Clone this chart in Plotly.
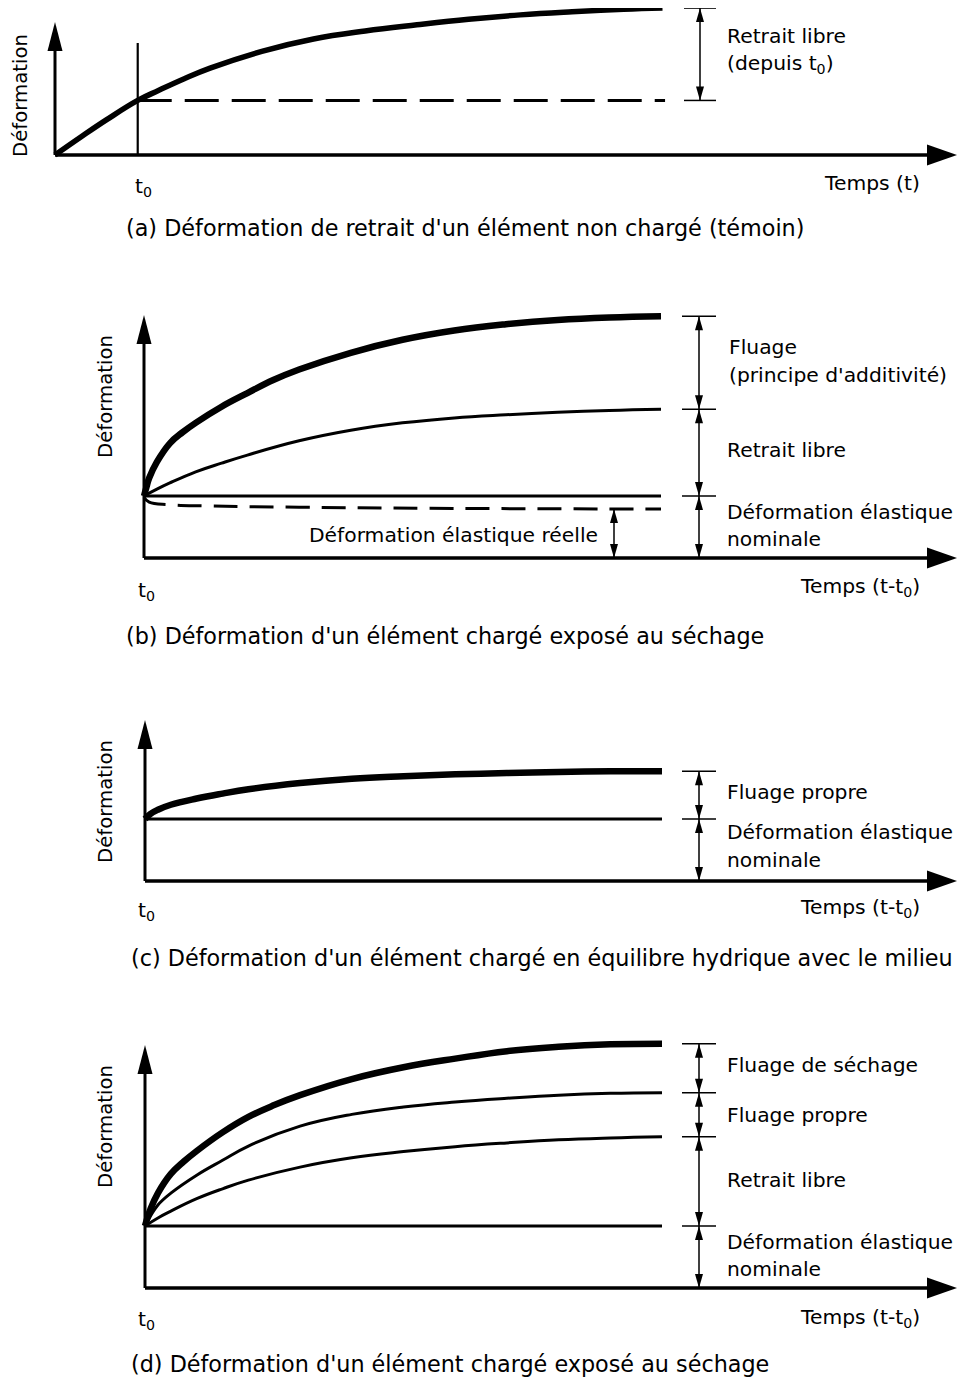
import plotly.graph_objects as go

# ------------------------------------------------------------------
# DATA  (deformation in arbitrary units, elastic deformation = 1)
# ------------------------------------------------------------------
# (a) free shrinkage of an unloaded specimen, time counted from casting
t_a = [0, 0.5, 1, 1.6, 2, 2.5, 3, 4, 5, 6, 7, 8, 9, 10, 11, 11.75]
retrait_a = [0, 0.29, 0.57, 0.88, 1.04, 1.23, 1.40, 1.67, 1.87, 2.00, 2.10, 2.19, 2.26, 2.31, 2.35, 2.37]
t0_a = 1.6
t_end_a = 11.8

# (b) loaded specimen exposed to drying, time t - t0
t_b_tot = [0, 0.05, 0.1, 0.25, 0.5, 0.75, 1, 1.5, 2, 2.5, 3, 4, 5, 6, 7, 8, 9, 10]
total_b = [1.0, 1.15, 1.29, 1.55, 1.85, 2.03, 2.18, 2.44, 2.66, 2.87, 3.04, 3.31, 3.52, 3.67, 3.77, 3.84, 3.88, 3.90]
t_b_ret = [0, 0.25, 0.5, 1, 1.5, 2, 3, 4, 5, 6, 7, 8, 9, 10]
retrait_b = [1.0, 1.11, 1.21, 1.39, 1.53, 1.66, 1.89, 2.06, 2.18, 2.26, 2.31, 2.35, 2.38, 2.40]
t_b_reel = [0, 0.1, 0.5, 1.2, 3, 6, 10]
reelle_b = [0.98, 0.90, 0.86, 0.84, 0.82, 0.80, 0.79]

# (c) loaded specimen in hygral equilibrium
t_c = [0, 0.1, 0.25, 0.5, 1, 1.5, 2, 3, 4, 5, 6, 7, 8, 9, 10]
total_c = [1.0, 1.08, 1.15, 1.23, 1.33, 1.41, 1.48, 1.58, 1.65, 1.69, 1.72, 1.74, 1.76, 1.77, 1.77]

# (d) loaded specimen exposed to drying, components
t_d_tot = [0, 0.05, 0.1, 0.25, 0.5, 0.75, 1, 1.5, 2, 2.5, 3, 4, 5, 6, 7, 8, 9, 10]
sechage_d = [1.0, 1.14, 1.26, 1.53, 1.84, 2.04, 2.21, 2.51, 2.76, 2.95, 3.11, 3.37, 3.56, 3.70, 3.82, 3.89, 3.93, 3.94]
t_d_pro = [0, 0.1, 0.25, 0.5, 1, 1.5, 2, 3, 4, 5, 6, 7, 8, 9, 10]
propre_d = [1.0, 1.15, 1.34, 1.53, 1.82, 2.06, 2.29, 2.61, 2.80, 2.92, 3.00, 3.06, 3.11, 3.14, 3.15]
t_d_ret = [0, 0.25, 0.5, 1, 1.5, 2, 3, 4, 5, 6, 7, 8, 9, 10]
retrait_d = [1.0, 1.13, 1.24, 1.44, 1.60, 1.74, 1.95, 2.10, 2.20, 2.28, 2.34, 2.39, 2.42, 2.44]

t_elastic = [0, 10]
elastic = [1.0, 1.0]

# ------------------------------------------------------------------
# LAYOUT GEOMETRY
# ------------------------------------------------------------------
W, H = 950, 1370
OFF = 8
SX, SY = 51.7, 62.0
FONT = "DejaVu Sans, Liberation Sans, Arial, sans-serif"
LBL = 20.3      # label size
CAP = 22.3      # caption size

# page-pixel origin of each panel
panels = {
    "a": dict(x0=55, y0=155, xr="x", yr="y"),
    "b": dict(x0=144, y0=558, xr="x2", yr="y2"),
    "c": dict(x0=145, y0=881, xr="x3", yr="y3"),
    "d": dict(x0=145, y0=1288, xr="x4", yr="y4"),
}

fig = go.Figure()
shapes = []
annots = []


def tx(p, px):
    return (px - panels[p]["x0"]) / SX


def ty(p, py):
    return (panels[p]["y0"] - py) / SY


def axname(ref):
    return "xaxis" if ref == "x" else "xaxis" + ref[1:]


def ayname(ref):
    return "yaxis" if ref == "y" else "yaxis" + ref[1:]


def line(p, x0, y0, x1, y1, w, dash=None):
    P = panels[p]
    shapes.append(dict(type="line", xref=P["xr"], yref=P["yr"], x0=x0, y0=y0, x1=x1, y1=y1,
                       line=dict(color="black", width=w, dash=dash), layer="above"))


def tri(p, x, y, d, L, Wd):
    P = panels[p]
    if d == "up":
        pts = [(x, y), (x - Wd / 2 / SX, y - L / SY), (x + Wd / 2 / SX, y - L / SY)]
    elif d == "down":
        pts = [(x, y), (x - Wd / 2 / SX, y + L / SY), (x + Wd / 2 / SX, y + L / SY)]
    else:  # right
        pts = [(x, y), (x - L / SX, y + Wd / 2 / SY), (x - L / SX, y - Wd / 2 / SY)]
    path = "M {},{} L {},{} L {},{} Z".format(*[v for pt in pts for v in pt])
    shapes.append(dict(type="path", xref=P["xr"], yref=P["yr"], path=path,
                       fillcolor="black", line=dict(width=0), layer="above"))


def curve(p, xs, ys, w, dash=None):
    P = panels[p]
    fig.add_trace(go.Scatter(x=xs, y=ys, mode="lines", xaxis=P["xr"], yaxis=P["yr"],
                             line=dict(color="black", width=w, shape="spline", smoothing=1.2,
                                       dash=dash),
                             hoverinfo="skip", showlegend=False))


def axes(p, ytip_px, xtip_px=957):
    ytop = ty(p, ytip_px)
    xend = tx(p, xtip_px)
    line(p, 0, 0, 0, ytop - 20 / SY, 3)
    tri(p, 0, ytop, "up", 29, 15)
    line(p, 0, 0, xend - 20 / SX, 0, 3.5)
    tri(p, xend, 0, "right", 30, 21)


def dim(p, x, levels, ticks=True, tick_half_px=17):
    levels = sorted(levels, reverse=True)
    for hi, lo in zip(levels[:-1], levels[1:]):
        line(p, x, lo, x, hi, 1.5)
        tri(p, x, hi, "up", 14, 8)
        tri(p, x, lo, "down", 14, 8)
    if ticks:
        for lv in levels:
            if lv > 0:
                line(p, x - tick_half_px / SX, lv, x + tick_half_px / SX, lv, 1.5)


def text(px, py, s, size=LBL, xanchor="left", angle=0):
    annots.append(dict(x=(px - OFF) / W, y=1 - (py - OFF) / H, xref="paper", yref="paper",
                       text=s, showarrow=False, xanchor=xanchor, yanchor="middle",
                       textangle=angle, font=dict(family=FONT, size=size, color="black")))


# ---------------- panel (a) ----------------
curve("a", t_a, retrait_a, 5.5)
line("a", t0_a, 0, t0_a, ty("a", 43), 2.2)
y_t0 = retrait_a[t_a.index(t0_a)]
fig.add_trace(go.Scatter(x=[t0_a, t_end_a], y=[y_t0, y_t0], mode="lines", xaxis="x", yaxis="y",
                         line=dict(color="black", width=3, dash="34px,13px"),
                         hoverinfo="skip", showlegend=False))
axes("a", 22)
dim("a", tx("a", 700), [retrait_a[-1], y_t0], tick_half_px=16)

text(21, 96, "Déformation", size=19.7, xanchor="center", angle=-90)
text(143, 187, "t<sub>0</sub>", xanchor="center")
text(822, 183, "Temps (t)")
text(725, 36, "Retrait libre")
text(725, 64, "(depuis t<sub>0</sub>)")
text(124, 228, "(a) Déformation de retrait d'un élément non chargé (témoin)", size=CAP)

# ---------------- panel (b) ----------------
curve("b", t_b_tot, total_b, 6.5)
curve("b", t_b_ret, retrait_b, 3)
curve("b", t_elastic, elastic, 3)
curve("b", t_b_reel, reelle_b, 3, dash="24px,12px")
axes("b", 315)
dim("b", tx("b", 699), [total_b[-1], retrait_b[-1], elastic[-1], 0])
dim("b", tx("b", 614), [reelle_b[-1], 0], ticks=False)

text(105, 397, "Déformation", size=19.7, xanchor="center", angle=-90)
text(146, 591, "t<sub>0</sub>", xanchor="center")
text(922, 587, "Temps (t-t<sub>0</sub>)", xanchor="right")
text(727, 347, "Fluage")
text(727, 375, "(principe d'additivité)")
text(725, 450, "Retrait libre")
text(725, 512, "Déformation élastique")
text(725, 539, "nominale")
text(600, 535, "Déformation élastique réelle", xanchor="right")
text(124, 636, "(b) Déformation d'un élément chargé exposé au séchage", size=CAP)

# ---------------- panel (c) ----------------
curve("c", t_c, total_c, 6.5)
curve("c", t_elastic, elastic, 3)
axes("c", 720)
dim("c", tx("c", 699), [total_c[-1], elastic[-1], 0])

text(105, 802, "Déformation", size=19.7, xanchor="center", angle=-90)
text(146, 911, "t<sub>0</sub>", xanchor="center")
text(922, 908, "Temps (t-t<sub>0</sub>)", xanchor="right")
text(725, 792, "Fluage propre")
text(725, 832, "Déformation élastique")
text(725, 860, "nominale")
text(129, 958, "(c) Déformation d'un élément chargé en équilibre hydrique avec le milieu", size=CAP)

# ---------------- panel (d) ----------------
curve("d", t_d_tot, sechage_d, 6.5)
curve("d", t_d_pro, propre_d, 3)
curve("d", t_d_ret, retrait_d, 3)
curve("d", t_elastic, elastic, 3)
axes("d", 1045)
dim("d", tx("d", 699), [sechage_d[-1], propre_d[-1], retrait_d[-1], elastic[-1], 0])

text(105, 1127, "Déformation", size=19.7, xanchor="center", angle=-90)
text(146, 1320, "t<sub>0</sub>", xanchor="center")
text(922, 1318, "Temps (t-t<sub>0</sub>)", xanchor="right")
text(725, 1065, "Fluage de séchage")
text(725, 1115, "Fluage propre")
text(725, 1180, "Retrait libre")
text(725, 1242, "Déformation élastique")
text(725, 1269, "nominale")
text(129, 1364, "(d) Déformation d'un élément chargé exposé au séchage", size=CAP)

# ---------------- axes ranges ----------------
layout_axes = {}
for i, (k, P) in enumerate(panels.items()):
    xr = [(OFF - P["x0"]) / SX, (OFF + W - P["x0"]) / SX]
    yr = [(P["y0"] - OFF - H) / SY, (P["y0"] - OFF) / SY]
    xa = dict(range=xr, domain=[0, 1], visible=False, fixedrange=True)
    ya = dict(range=yr, domain=[0, 1], visible=False, fixedrange=True)
    if i > 0:
        xa["overlaying"] = "x"
        ya["overlaying"] = "y"
    xa["anchor"] = P["yr"]
    ya["anchor"] = P["xr"]
    layout_axes[axname(P["xr"])] = xa
    layout_axes[ayname(P["yr"])] = ya

fig.update_layout(
    width=W, height=H, margin=dict(l=0, r=0, t=0, b=0),
    paper_bgcolor="white", plot_bgcolor="rgba(0,0,0,0)",
    showlegend=False, shapes=shapes, annotations=annots,
    **layout_axes,
)

fig.write_html("out.html")
